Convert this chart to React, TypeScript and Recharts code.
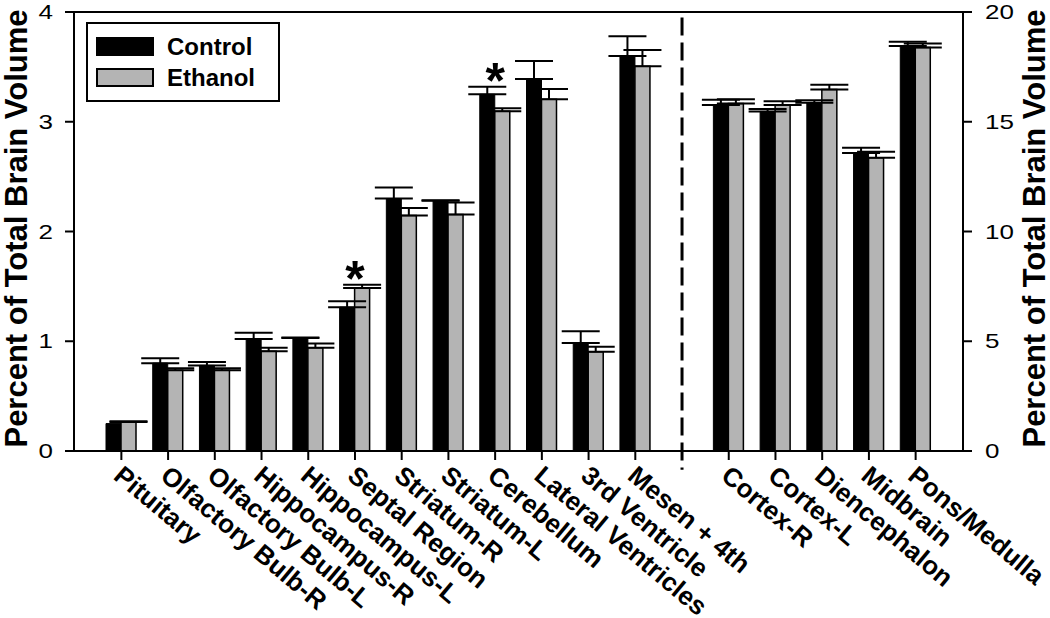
import React from 'react';
import {
  BarChart,
  Bar,
  XAxis,
  YAxis,
  ErrorBar,
  Legend,
  ReferenceLine,
  ReferenceDot,
} from 'recharts';

// ---- Data ----
const leftCategories = [
  'Pituitary',
  'Olfactory Bulb-R',
  'Olfactory Bulb-L',
  'Hippocampus-R',
  'Hippocampus-L',
  'Septal Region',
  'Striatum-R',
  'Striatum-L',
  'Cerebellum',
  'Lateral Ventricles',
  '3rd Ventricle',
  'Mesen + 4th',
];
const leftControl = [0.25, 0.8, 0.78, 1.02, 1.03, 1.31, 2.3, 2.28, 3.25, 3.39, 0.985, 3.6];
const leftControlErr = [0, 0.045, 0.03, 0.057, 0.004, 0.055, 0.1, 0.004, 0.07, 0.164, 0.106, 0.18];
const leftEthanol = [0.265, 0.735, 0.735, 0.91, 0.94, 1.485, 2.145, 2.155, 3.095, 3.205, 0.905, 3.505];
const leftEthanolErr = [0.005, 0.02, 0.02, 0.03, 0.04, 0.03, 0.07, 0.11, 0.027, 0.094, 0.045, 0.148];

const rightCategories = ['Cortex-R', 'Cortex-L', 'Diencephalon', 'Midbrain', 'Pons/Medulla'];
const rightControl = [15.76, 15.47, 15.86, 13.58, 18.45];
const rightControlErr = [0.24, 0.11, 0.12, 0.24, 0.2];
const rightEthanol = [15.83, 15.76, 16.47, 13.36, 18.38];
const rightEthanolErr = [0.2, 0.17, 0.21, 0.27, 0.18];

const significant = ['Septal Region', 'Cerebellum'];

const leftTicks = [0, 1, 2, 3, 4];
const rightTicks = [0, 5, 10, 15, 20];

const seriesNames = ['Control', 'Ethanol'];
const seriesColors = ['#000000', '#b4b4b4'];
const axisTitle = 'Percent of Total Brain Volume';

const DIVIDER = '__divider__';

// one-sided (upward) error bars; no bar drawn when the error is zero
const upErr = (e: number) => (e > 0 ? [0, e] : null);

const data: any[] = [
  ...leftCategories.map((name, i) => ({
    name,
    controlLeft: leftControl[i],
    ethanolLeft: leftEthanol[i],
    controlLeftErr: upErr(leftControlErr[i]),
    ethanolLeftErr: upErr(leftEthanolErr[i]),
  })),
  { name: DIVIDER },
  ...rightCategories.map((name, i) => ({
    name,
    controlRight: rightControl[i],
    ethanolRight: rightEthanol[i],
    controlRightErr: upErr(rightControlErr[i]),
    ethanolRightErr: upErr(rightEthanolErr[i]),
  })),
];

const starPoints = significant.map((name) => {
  const i = leftCategories.indexOf(name);
  return {
    name,
    top: Math.max(leftControl[i] + leftControlErr[i], leftEthanol[i] + leftEthanolErr[i]),
  };
});

const FONT = '"Liberation Sans", Arial, Helvetica, sans-serif';

const CategoryTick = (props: any) => {
  const { x, y, payload } = props;
  if (payload.value === DIVIDER) return null;
  return (
    <g transform={`translate(${x + 3},${y + 2}) rotate(40)`}>
      <text x={0} y={0} dy="0.72em" textAnchor="start" fontSize={26} fontWeight="bold" fontFamily={FONT} fill="#000">
        {payload.value}
      </text>
    </g>
  );
};

const NumTick = (props: any) => {
  const { x, y, payload, textAnchor } = props;
  return (
    <g transform={`translate(${x},${y}) scale(1.3,1)`}>
      <text x={0} y={0} dy="0.36em" textAnchor={textAnchor} fontSize={20} fontFamily={FONT} fill="#000">
        {payload.value}
      </text>
    </g>
  );
};

const TitleLabel = (bx: number) => (props: any) => {
  const { viewBox } = props;
  const cy = viewBox.y + viewBox.height / 2 - 3;
  const x = viewBox.x + bx;
  return (
    <g transform={`translate(${x},${cy}) rotate(-90)`}>
      <text x={0} y={0} textAnchor="middle" fontSize={31} fontWeight="bold" fontFamily={FONT} fill="#000">
        {axisTitle}
      </text>
    </g>
  );
};

const StarShape = (props: any) => {
  const { cx, cy } = props;
  return (
    <text x={cx} y={cy + 11} textAnchor="middle" fontSize={50} fontWeight="bold" fontFamily={FONT} fill="#000">
      *
    </text>
  );
};

const LegendBox = (props: any) => {
  const payload = (props.payload || []).filter((p: any) => p.type !== 'none');
  return (
    <div
      style={{
        position: 'relative',
        width: 190,
        height: 76,
        border: '2px solid #000',
        background: '#fff',
        fontFamily: FONT,
      }}
    >
      {payload.map((p: any, i: number) => (
        <div
          key={p.value}
          style={{ position: 'absolute', left: 8, top: 13 + i * 31, height: 19, display: 'flex', alignItems: 'center' }}
        >
          <span
            style={{
              display: 'inline-block',
              width: 58,
              height: 19,
              background: p.color,
              border: '2px solid #000',
              boxSizing: 'border-box',
            }}
          />
          <span style={{ marginLeft: 13, fontSize: 24, fontWeight: 'bold', color: '#000', lineHeight: '19px' }}>
            {p.value}
          </span>
        </div>
      ))}
    </div>
  );
};

export default function App() {
  return (
    <div style={{ position: 'absolute', left: 0, top: 0, width: 1050, height: 618, background: '#fff' }}>
      <BarChart
        width={1050}
        height={618}
        data={data}
        margin={{ top: 12, right: 0, bottom: 0, left: 0 }}
        barGap={0}
        barSize={15}
      >
        <XAxis
          dataKey="name"
          interval={0}
          height={167}
          tickSize={9}
          tick={<CategoryTick />}
          padding={{ left: 24, right: 24 }}
          axisLine={{ stroke: '#000', strokeWidth: 2 }}
          tickLine={{ stroke: '#000', strokeWidth: 2 }}
        />
        <YAxis
          yAxisId="left"
          orientation="left"
          domain={[0, 4]}
          ticks={leftTicks}
          width={74}
          tickSize={9}
          tickMargin={12}
          tick={<NumTick />}
          axisLine={{ stroke: '#000', strokeWidth: 2 }}
          tickLine={{ stroke: '#000', strokeWidth: 2 }}
          label={{ content: TitleLabel(26.5) }}
        />
        <YAxis
          yAxisId="right"
          orientation="right"
          domain={[0, 20]}
          ticks={rightTicks}
          width={87}
          tickSize={9}
          tickMargin={13}
          tick={<NumTick />}
          axisLine={{ stroke: '#000', strokeWidth: 2 }}
          tickLine={{ stroke: '#000', strokeWidth: 2 }}
          label={{ content: TitleLabel(82) }}
        />
        <Legend
          layout="horizontal"
          verticalAlign="middle"
          align="center"
          content={<LegendBox />}
          wrapperStyle={{ position: 'absolute', left: 86, top: 22, width: 194, height: 80 }}
        />
        <ReferenceLine y={4} yAxisId="left" stroke="#000" strokeWidth={2} />
        <ReferenceLine
          yAxisId="left"
          ifOverflow="visible"
          segment={[
            { x: DIVIDER, y: 3.95 },
            { x: DIVIDER, y: -0.17 },
          ]}
          stroke="#000"
          strokeWidth={3}
          strokeDasharray="18 7"
        />
        <Bar
          dataKey="controlLeft"
          name={seriesNames[0]}
          yAxisId="left"
          stackId="control"
          fill={seriesColors[0]}
          stroke="#000"
          strokeWidth={1}
          isAnimationActive={false}
        >
          <ErrorBar dataKey="controlLeftErr" direction="y" width={19} stroke="#000" strokeWidth={2} isAnimationActive={false} />
        </Bar>
        <Bar
          dataKey="controlRight"
          name={seriesNames[0] + ' '}
          legendType="none"
          yAxisId="right"
          stackId="control"
          fill={seriesColors[0]}
          stroke="#000"
          strokeWidth={1}
          isAnimationActive={false}
        >
          <ErrorBar dataKey="controlRightErr" direction="y" width={19} stroke="#000" strokeWidth={2} isAnimationActive={false} />
        </Bar>
        <Bar
          dataKey="ethanolLeft"
          name={seriesNames[1]}
          yAxisId="left"
          stackId="ethanol"
          fill={seriesColors[1]}
          stroke="#000"
          strokeWidth={1.5}
          isAnimationActive={false}
        >
          <ErrorBar dataKey="ethanolLeftErr" direction="y" width={19} stroke="#000" strokeWidth={2} isAnimationActive={false} />
        </Bar>
        <Bar
          dataKey="ethanolRight"
          name={seriesNames[1] + ' '}
          legendType="none"
          yAxisId="right"
          stackId="ethanol"
          fill={seriesColors[1]}
          stroke="#000"
          strokeWidth={1.5}
          isAnimationActive={false}
        >
          <ErrorBar dataKey="ethanolRightErr" direction="y" width={19} stroke="#000" strokeWidth={2} isAnimationActive={false} />
        </Bar>
        {starPoints.map((s) => (
          <ReferenceDot key={s.name} x={s.name} y={s.top} yAxisId="left" r={0} shape={StarShape} />
        ))}
      </BarChart>
    </div>
  );
}
